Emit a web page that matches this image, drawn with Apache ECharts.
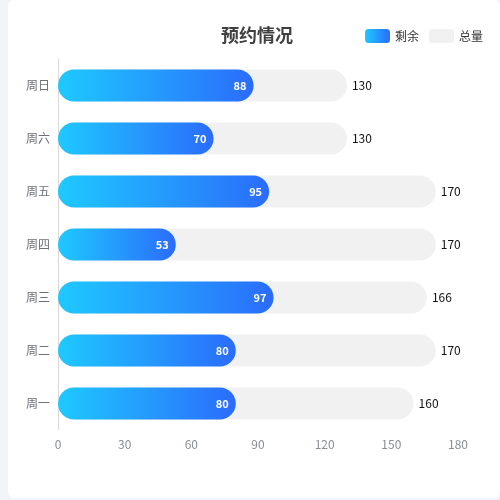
<!DOCTYPE html>
<html>
<head>
<meta charset="utf-8">
<script src="https://cdn.jsdelivr.net/npm/echarts@6/dist/echarts.min.js"></script>
<style>
  html, body { margin: 0; padding: 0; background: #f3f4f9; }
  #chart {
    position: absolute; left: 8px; top: 0; width: 492px; height: 498px;
    background: #fff; border-radius: 6px;
  }
</style>
</head>
<body>
<div id="chart"></div>
<script>
// data (bottom to top)
const days = ['周一', '周二', '周三', '周四', '周五', '周六', '周日']
const remaining = [80, 80, 97, 53, 95, 70, 88]
const totals = [160, 170, 166, 170, 170, 130, 130]
const xTicks = { min: 0, max: 180, interval: 30 }

const blueGrad = new echarts.graphic.LinearGradient(0, 0, 1, 0, [
  { offset: 0, color: '#1ec9ff' },
  { offset: 1, color: '#2b6cfb' }
])

const chart = echarts.init(document.getElementById('chart'))
const option = {
  textStyle: { fontFamily: '"Noto Sans CJK SC", "Noto Sans", sans-serif' },
  title: {
    text: '预约情况',
    left: 208,
    top: 21,
    textStyle: { fontSize: 18, fontWeight: 'bold', color: '#404040' }
  },
  legend: {
    right: 12,
    top: 24,
    itemWidth: 25,
    itemHeight: 14,
    itemGap: 10,
    icon: 'roundRect',
    textStyle: { fontSize: 12, color: '#333' },
    data: ['剩余', '总量']
  },
  grid: { left: 50, right: 42, top: 59, bottom: 68, containLabel: false },
  xAxis: {
    type: 'value',
    min: xTicks.min,
    max: xTicks.max,
    interval: xTicks.interval,
    splitLine: { show: false },
    axisLine: { show: false },
    axisTick: { show: false },
    axisLabel: { color: '#8a8d99', fontSize: 12, margin: 8 }
  },
  yAxis: {
    type: 'category',
    data: days,
    axisTick: { show: false },
    axisLine: { show: true, lineStyle: { color: '#d9d9d9' } },
    axisLabel: { color: '#6e7079', fontSize: 12, margin: 8 }
  },
  series: [
    {
      name: '总量',
      type: 'bar',
      data: totals,
      barWidth: 32,
      barGap: '-100%',
      z: 1,
      itemStyle: { color: '#f1f1f1', borderRadius: 16 },
      label: { show: true, position: 'right', distance: 5, color: '#111', fontSize: 12 }
    },
    {
      name: '剩余',
      type: 'bar',
      data: remaining,
      barWidth: 32,
      z: 2,
      itemStyle: { color: blueGrad, borderRadius: 16 },
      label: {
        show: true, position: 'insideRight', distance: 7,
        color: '#fff', fontSize: 11, fontWeight: 'bold'
      }
    }
  ]
}
chart.setOption(option)
</script>
</body>
</html>
